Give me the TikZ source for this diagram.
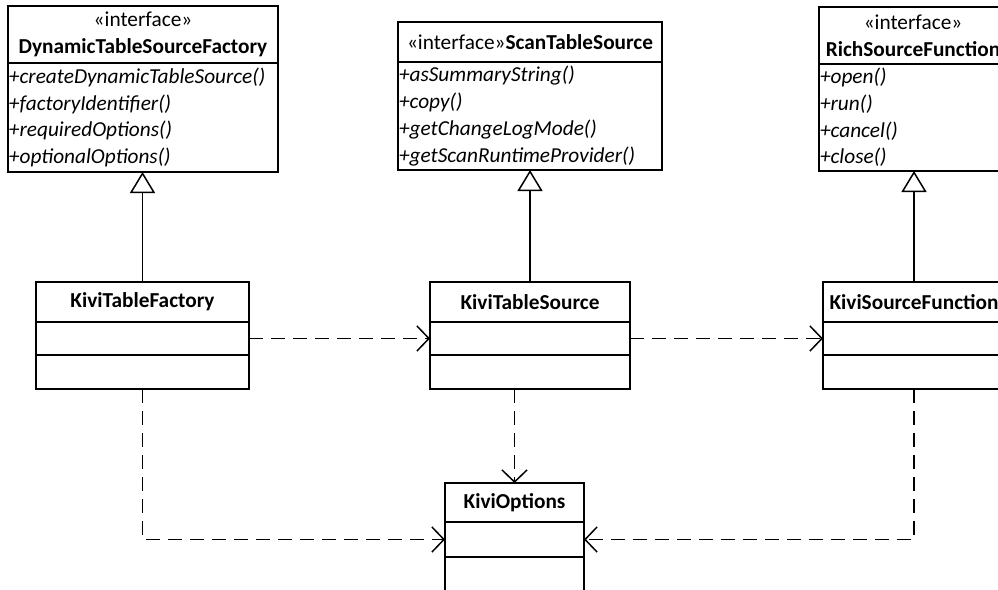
\documentclass[tikz,border=0pt]{standalone}
\usepackage{fontspec}
\setmainfont{Carlito}
\usetikzlibrary{arrows.meta,positioning}

\newcommand\umlsize{\fontsize{21.3}{26.7}\selectfont}

\begin{document}
\begin{tikzpicture}[x=1pt,y=-1pt,
  box/.style={draw,line width=1.5pt,outer sep=0pt,inner sep=1pt,font=\umlsize},
  head/.style={box,align=center},
  ops/.style={box,text width=#1,align=flush left,font=\umlsize\itshape},
  gen/.style={line width=1.5pt,-{Triangle[open,length=21pt,width=25pt,fill=white]}},
  dep/.style={line width=1.5pt,dash pattern=on 14pt off 8pt,
    -{Straight Barb[length=12pt,width=25pt]}}]
  \useasboundingbox (0,0) rectangle (998,589);
  \clip (0,0) rectangle (998,589);

  % The three interfaces.
  \node[head,minimum width=270,minimum height=57,anchor=north west] (dtsf) at (8,6)
    {«interface»\\\textbf{DynamicTableSourceFactory}};
  \node[ops=268,minimum height=109,below=0pt of dtsf] (dtsf-ops)
    {+createDynamicTableSource()\\+factoryIdentifier()\\
     +requiredOptions()\\+optionalOptions()};

  \node[head,minimum width=264,minimum height=40,anchor=north west] (sts) at (398,22)
    {«interface»\textbf{ScanTableSource}};
  \node[ops=262,minimum height=108,below=0pt of sts] (sts-ops)
    {+asSummaryString()\\+copy()\\+getChangeLogMode()\\+getScanRuntimeProvider()};

  \node[head,minimum width=188,minimum height=57,anchor=north west] (rsf) at (819,7)
    {«interface»\\\textbf{RichSourceFunction}};
  \node[ops=186,minimum height=107,below=0pt of rsf] (rsf-ops)
    {+open()\\+run()\\+cancel()\\+close()};

  % The Kivi classes.
  \node[head,minimum width=213,minimum height=40,anchor=north west] (kf) at (36,282)
    {\textbf{KiviTableFactory}};
  \node[box,minimum width=213,minimum height=33,below=0pt of kf] (kf-attr) {};
  \node[box,minimum width=213,minimum height=34,below=0pt of kf-attr] (kf-ops) {};

  \node[head,minimum width=200,minimum height=40,anchor=north west] (ts) at (430,282)
    {\textbf{KiviTableSource}};
  \node[box,minimum width=200,minimum height=33,below=0pt of ts] (ts-attr) {};
  \node[box,minimum width=200,minimum height=34,below=0pt of ts-attr] (ts-ops) {};

  \node[head,minimum width=182,minimum height=40,anchor=north west] (sf) at (823,282)
    {\textbf{KiviSourceFunction}};
  \node[box,minimum width=182,minimum height=33,below=0pt of sf] (sf-attr) {};
  \node[box,minimum width=182,minimum height=34,below=0pt of sf-attr] (sf-ops) {};

  \node[head,minimum width=139,minimum height=39,anchor=north west] (ko) at (445,483)
    {\textbf{KiviOptions}};
  \node[box,minimum width=139,minimum height=35,below=0pt of ko] (ko-attr) {};
  \node[box,minimum width=139,minimum height=34,below=0pt of ko-attr] (ko-ops) {};

  % Realisations.
  \draw[gen] (kf.north) -- (kf.north |- dtsf-ops.south);
  \draw[gen] (ts.north) -- (ts.north |- sts-ops.south);
  \draw[gen] (sf.north) -- (sf.north |- rsf-ops.south);

  % Dependencies.
  \draw[dep] (kf-attr.east) -- (ts-attr.west);
  \draw[dep] (ts-attr.east) -- (sf-attr.west);
  \draw[dep] (kf-ops.south) |- (ko-attr.west);
  \draw[dep] (ko.north |- ts-ops.south) -- (ko.north);
  \draw[dep] (sf-ops.south) |- (ko-attr.east);
\end{tikzpicture}
\end{document}
